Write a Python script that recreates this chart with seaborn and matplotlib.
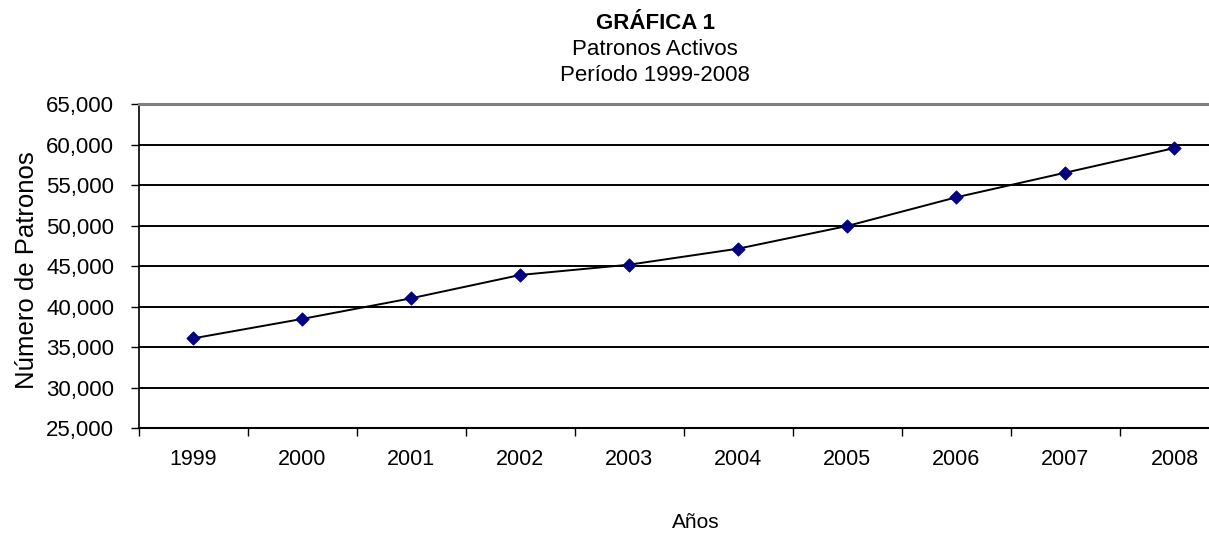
import matplotlib
matplotlib.use("Agg")
import matplotlib.pyplot as plt
import seaborn as sns
import pandas as pd
from matplotlib.ticker import FuncFormatter, FixedLocator

# Data
years = [1999, 2000, 2001, 2002, 2003, 2004, 2005, 2006, 2007, 2008]
patronos = [36100, 38500, 41050, 43930, 45200, 47180, 49980, 53520, 56560, 59600]

df = pd.DataFrame({"year": years, "patronos": patronos})

sns.set_style("white")
plt.rcParams["font.family"] = ["Liberation Sans", "DejaVu Sans"]
plt.rcParams["text.color"] = "black"
plt.rcParams["axes.labelcolor"] = "black"
plt.rcParams["xtick.color"] = "black"
plt.rcParams["ytick.color"] = "black"

fig = plt.figure(figsize=(12.09, 5.34), dpi=100)
# plot area runs past the right edge, as in the cropped original
ax = fig.add_axes([138.5 / 1209, 1 - 428.3 / 534, (1229 - 138.5) / 1209, 324 / 534])

# Line and markers
sns.lineplot(data=df, x="year", y="patronos", color="black", linewidth=1.4, ax=ax)
sns.scatterplot(data=df, x="year", y="patronos", marker="D", color="#000080",
                s=46, edgecolor="#000080", linewidth=0.6, zorder=4, ax=ax)

# Axes limits and ticks
ax.set_xlim(years[0] - 0.5, years[-1] + 0.5)
ax.set_ylim(25000, 65000)
ax.set_yticks(range(25000, 65001, 5000))
ax.yaxis.set_major_formatter(FuncFormatter(lambda v, p: f"{int(v):,}"))
ax.set_xticks(years)
ax.xaxis.set_minor_locator(FixedLocator([y - 0.5 for y in years]))

ax.tick_params(axis="x", which="major", length=0, pad=15, labelsize=15.5)
ax.tick_params(axis="x", which="minor", length=5.5, width=1, direction="out", bottom=True)
ax.tick_params(axis="y", length=5.5, width=1, direction="out", left=True, pad=12, labelsize=16)

# Gridlines
ax.yaxis.grid(True, color="black", linewidth=1.4)
ax.xaxis.grid(False)
ax.set_axisbelow(True)

ax.spines["right"].set_visible(False)
ax.spines["top"].set_color("#808080")
ax.spines["top"].set_linewidth(2.2)
ax.spines["left"].set_color("black")
ax.spines["left"].set_linewidth(1.2)
ax.spines["bottom"].set_color("black")
ax.spines["bottom"].set_linewidth(1.5)

ax.set_xlabel("Años", fontsize=15)
ax.xaxis.set_label_coords(696 / 1209, 1 - 513 / 534, transform=fig.transFigure)
ax.set_ylabel("Número de Patronos", fontsize=18.5, va="center")
ax.yaxis.set_label_coords(27.5 / 1209, 1 - 270 / 534, transform=fig.transFigure)

# Titles
tx = 655 / 1209
fig.text(tx, 1 - 29.3 / 534, "GRÁFICA 1", ha="center", va="baseline", fontsize=16, fontweight="bold")
fig.text(tx, 1 - 55 / 534, "Patronos Activos", ha="center", va="baseline", fontsize=16)
fig.text(tx, 1 - 81 / 534, "Período 1999-2008", ha="center", va="baseline", fontsize=16)

fig.savefig("out.png", dpi=100)
